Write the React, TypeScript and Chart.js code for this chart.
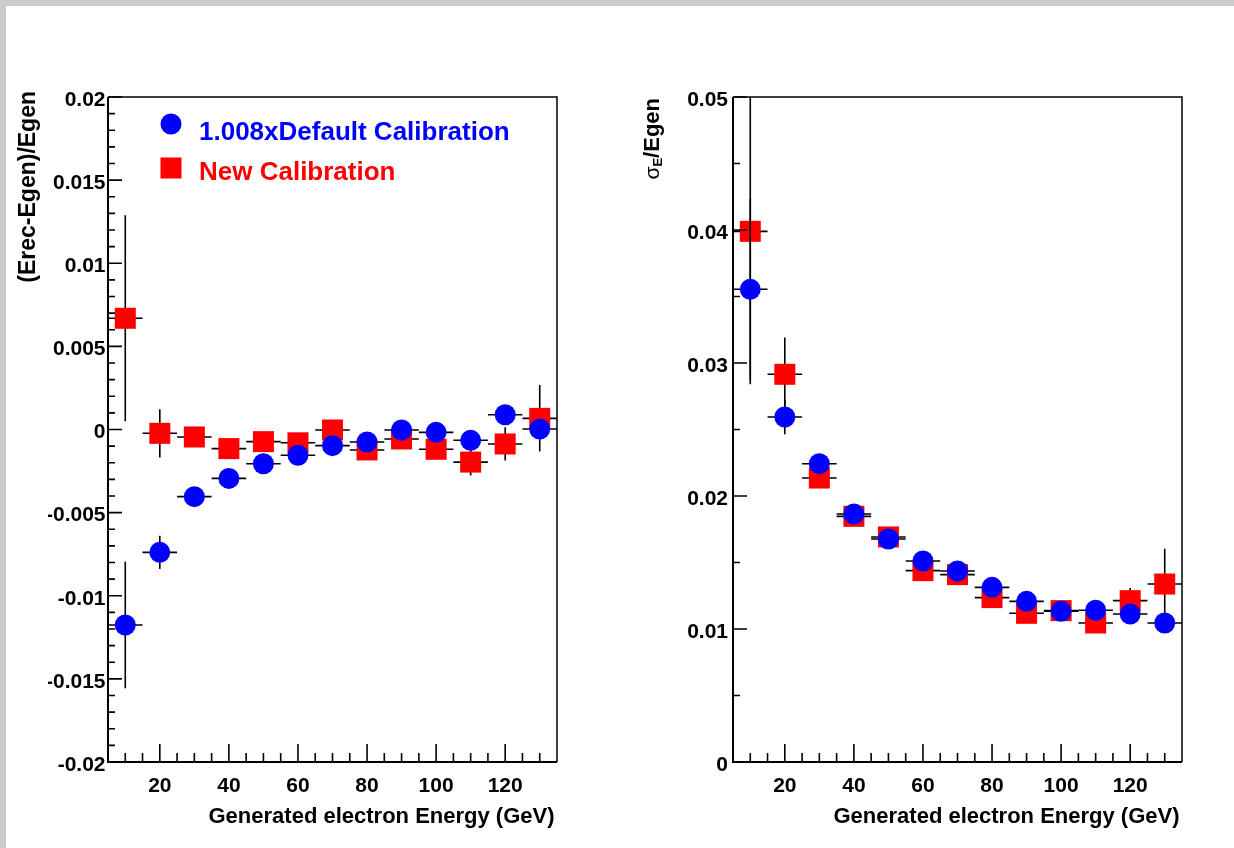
import React, { useEffect, useRef } from 'react';
import { Chart, registerables } from 'chart.js';

Chart.register(...registerables);

// ---------------- data ----------------
const energies = [10, 20, 30, 40, 50, 60, 70, 80, 90, 100, 110, 120, 130];
const energyHalfBin = [5, 5, 5, 5, 5, 5, 5, 5, 5, 5, 5, 5, 5];

// left panel: (Erec-Egen)/Egen
const responseDefault = [-0.01176, -0.00739, -0.00404, -0.00294, -0.00206, -0.00155, -0.00097, -0.00075, -0.00003, -0.00017, -0.00065, 0.00089, 0.00003];
const responseDefaultErr = [0.0038, 0.001, 0.0005, 0.0004, 0.0004, 0.0004, 0.0004, 0.0004, 0.0004, 0.0004, 0.0004, 0.0005, 0.0006];
const responseNew = [0.00669, -0.00023, -0.00045, -0.00115, -0.00073, -0.0008, -0.00003, -0.00123, -0.00057, -0.00119, -0.00196, -0.00087, 0.00067];
const responseNewErr = [0.0062, 0.00145, 0.0005, 0.0005, 0.0005, 0.0005, 0.0005, 0.0005, 0.0005, 0.0005, 0.0008, 0.001, 0.002];

// right panel: sigma_E/Egen
const resolutionDefault = [0.03554, 0.02594, 0.02243, 0.01865, 0.01677, 0.01511, 0.01436, 0.01313, 0.01208, 0.01133, 0.01141, 0.01113, 0.01045];
const resolutionDefaultErr = [0.0068, 0.0013, 0.0004, 0.0003, 0.0003, 0.0003, 0.0003, 0.0003, 0.0003, 0.0003, 0.0003, 0.0003, 0.0003];
const resolutionNew = [0.0399, 0.02915, 0.02135, 0.01847, 0.01692, 0.01439, 0.01409, 0.01236, 0.01118, 0.01138, 0.01045, 0.01213, 0.01338];
const resolutionNewErr = [0.0115, 0.00276, 0.0004, 0.0003, 0.0003, 0.0003, 0.0003, 0.0003, 0.0003, 0.0003, 0.0004, 0.00096, 0.00266];

const seriesNames = ['1.008xDefault Calibration', 'New Calibration'];
const xTickValues = [20, 40, 60, 80, 100, 120];
const leftYTickValues = [-0.02, -0.015, -0.01, -0.005, 0, 0.005, 0.01, 0.015, 0.02];
const rightYTickValues = [0, 0.01, 0.02, 0.03, 0.04, 0.05];
const xTitle = 'Generated electron Energy (GeV)';
const leftYTitle = '(Erec-Egen)/Egen';

// ---------------- style ----------------
const W = 1234;
const H = 848;
const FONT = '"Liberation Sans", Arial, Helvetica, sans-serif';
const BLUE = '#0000ff';
const RED = '#ff0000';
const Y_AXIS_W = 60;
const X_AXIS_H = 50;

const fmt = (v: number) => {
  if (Math.abs(v) < 1e-12) return '0';
  return String(parseFloat(v.toFixed(4)));
};

const rootPlugin = {
  id: 'rootStyle',
  beforeDatasetDraw(chart: any, args: any) {
    const ds = chart.data.datasets[args.index];
    const { ctx, chartArea: a } = chart;
    const xs = chart.scales.x;
    const ys = chart.scales.y;
    ctx.save();
    ctx.beginPath();
    ctx.rect(a.left, a.top, a.right - a.left, a.bottom - a.top);
    ctx.clip();
    ctx.strokeStyle = '#000';
    ctx.lineWidth = 1.6;
    ds.data.forEach((pt: any, i: number) => {
      const px = xs.getPixelForValue(pt.x);
      const py = ys.getPixelForValue(pt.y);
      ctx.beginPath();
      ctx.moveTo(xs.getPixelForValue(pt.x - ds.xErr[i]), py);
      ctx.lineTo(xs.getPixelForValue(pt.x + ds.xErr[i]), py);
      ctx.moveTo(px, ys.getPixelForValue(pt.y - ds.yErr[i]));
      ctx.lineTo(px, ys.getPixelForValue(pt.y + ds.yErr[i]));
      ctx.stroke();
    });
    ctx.restore();
  },
  afterDraw(chart: any, _args: any, opts: any) {
    const { ctx, chartArea: a } = chart;
    const xs = chart.scales.x;
    const ys = chart.scales.y;
    ctx.save();
    // frame
    ctx.strokeStyle = '#000';
    ctx.lineWidth = 1.5;
    ctx.beginPath();
    ctx.moveTo(a.left, a.top);
    ctx.lineTo(a.right, a.top);
    ctx.lineTo(a.right, a.bottom);
    ctx.stroke();
    ctx.lineWidth = 2;
    ctx.beginPath();
    ctx.moveTo(a.left, a.top);
    ctx.lineTo(a.left, a.bottom);
    ctx.lineTo(a.right, a.bottom);
    ctx.stroke();

    // y ticks (inside)
    ctx.lineWidth = 1.6;
    ctx.beginPath();
    const yMin = ys.min;
    const yMax = ys.max;
    const nMinor = Math.round((yMax - yMin) / opts.yMinorStep);
    for (let k = 0; k <= nMinor; k++) {
      const v = yMin + k * opts.yMinorStep;
      const isMajor = Math.abs(v / opts.yMajorStep - Math.round(v / opts.yMajorStep)) < 1e-6;
      const py = ys.getPixelForValue(v);
      ctx.moveTo(a.left, py);
      ctx.lineTo(a.left + (isMajor ? 14 : 7), py);
    }
    // x ticks (inside)
    for (let v = 10; v <= 130; v += 5) {
      const isMajor = v % 20 === 0;
      const px = xs.getPixelForValue(v);
      ctx.moveTo(px, a.bottom);
      ctx.lineTo(px, a.bottom - (isMajor ? 18 : 9));
    }
    ctx.stroke();

    // x title
    ctx.fillStyle = '#000';
    ctx.font = `bold 22px ${FONT}`;
    ctx.textAlign = 'right';
    ctx.textBaseline = 'alphabetic';
    ctx.fillText(xTitle, a.right - 2.5, 823);

    // y title (rotated, segments)
    const segs = opts.yTitle;
    let total = 0;
    segs.forEach((s: any) => {
      ctx.font = s.font;
      total += ctx.measureText(s.text).width;
    });
    ctx.translate(opts.yTitleX, opts.yTitleTop);
    ctx.rotate(-Math.PI / 2);
    ctx.textAlign = 'left';
    let u = -total;
    segs.forEach((s: any) => {
      ctx.font = s.font;
      ctx.fillText(s.text, u, s.dv || 0);
      u += ctx.measureText(s.text).width;
    });
    ctx.setTransform(1, 0, 0, 1, 0, 0);

    // legend
    if (opts.legend) {
      ctx.fillStyle = BLUE;
      ctx.beginPath();
      ctx.arc(171, 124, 10.5, 0, Math.PI * 2);
      ctx.fill();
      ctx.fillStyle = RED;
      ctx.fillRect(160.5, 157.5, 21, 21);
      ctx.font = `bold 26px ${FONT}`;
      ctx.textAlign = 'left';
      ctx.fillStyle = BLUE;
      ctx.fillText(seriesNames[0], 199, 140);
      ctx.fillStyle = RED;
      ctx.fillText(seriesNames[1], 199, 180);
    }
    ctx.restore();
  },
};

interface PanelSpec {
  left: number;
  right: number;
  top: number;
  bottom: number;
  yMin: number;
  yMax: number;
  yTicks: number[];
  yMajorStep: number;
  yMinorStep: number;
  labelPad: number;
  blue: number[];
  blueErr: number[];
  red: number[];
  redErr: number[];
  yTitle: any[];
  yTitleX: number;
  yTitleTop: number;
  legend: boolean;
}

function buildConfig(p: PanelSpec): any {
  const tickFont = { family: FONT, size: 21, weight: 'bold' as const };
  return {
    type: 'scatter',
    data: {
      datasets: [
        {
          label: seriesNames[0],
          data: energies.map((x, i) => ({ x, y: p.blue[i] })),
          yErr: p.blueErr,
          xErr: energyHalfBin,
          pointStyle: 'circle',
          pointRadius: 10.5,
          pointHoverRadius: 10.5,
          pointBackgroundColor: BLUE,
          backgroundColor: BLUE,
          pointBorderWidth: 0,
          borderWidth: 0,
          showLine: false,
        },
        {
          label: seriesNames[1],
          data: energies.map((x, i) => ({ x, y: p.red[i] })),
          yErr: p.redErr,
          xErr: energyHalfBin,
          pointStyle: 'rect',
          pointRadius: 14.85,
          pointHoverRadius: 14.85,
          pointBackgroundColor: RED,
          backgroundColor: RED,
          pointBorderWidth: 0,
          borderWidth: 0,
          showLine: false,
        },
      ],
    },
    options: {
      responsive: false,
      animation: false,
      events: [],
      layout: {
        padding: {
          left: p.left - Y_AXIS_W,
          right: W - p.right,
          top: p.top,
          bottom: H - p.bottom - X_AXIS_H,
        },
      },
      plugins: {
        legend: { display: false },
        tooltip: { enabled: false },
        rootStyle: {
          yMajorStep: p.yMajorStep,
          yMinorStep: p.yMinorStep,
          yTitle: p.yTitle,
          yTitleX: p.yTitleX,
          yTitleTop: p.yTitleTop,
          legend: p.legend,
        },
      },
      scales: {
        x: {
          type: 'linear',
          min: 5,
          max: 135,
          afterBuildTicks: (s: any) => {
            s.ticks = xTickValues.map((v) => ({ value: v }));
          },
          afterFit: (s: any) => {
            s.height = X_AXIS_H;
          },
          grid: { display: false, drawTicks: false },
          border: { display: false },
          ticks: {
            autoSkip: false,
            maxRotation: 0,
            padding: 11.5,
            color: '#000',
            font: tickFont,
            callback: (v: number) => String(v),
          },
        },
        y: {
          type: 'linear',
          min: p.yMin,
          max: p.yMax,
          afterBuildTicks: (s: any) => {
            s.ticks = p.yTicks.map((v) => ({ value: v }));
          },
          afterFit: (s: any) => {
            s.width = Y_AXIS_W;
          },
          grid: { display: false, drawTicks: false },
          border: { display: false },
          ticks: {
            autoSkip: false,
            padding: p.labelPad,
            labelOffset: 3,
            color: '#000',
            font: tickFont,
            callback: (v: number) => fmt(v),
          },
        },
      },
    },
    plugins: [rootPlugin],
  };
}

const leftSpec: PanelSpec = {
  left: 108,
  right: 557,
  top: 97,
  bottom: 762,
  yMin: -0.02,
  yMax: 0.02,
  yTicks: leftYTickValues,
  yMajorStep: 0.005,
  yMinorStep: 0.001,
  labelPad: 2.5,
  blue: responseDefault,
  blueErr: responseDefaultErr,
  red: responseNew,
  redErr: responseNewErr,
  yTitle: [{ text: leftYTitle, font: `bold 23px ${FONT}` }],
  yTitleX: 35,
  yTitleTop: 91,
  legend: true,
};

const rightSpec: PanelSpec = {
  left: 733,
  right: 1182,
  top: 97,
  bottom: 762,
  yMin: 0,
  yMax: 0.05,
  yTicks: rightYTickValues,
  yMajorStep: 0.01,
  yMinorStep: 0.005,
  labelPad: 5,
  blue: resolutionDefault,
  blueErr: resolutionDefaultErr,
  red: resolutionNew,
  redErr: resolutionNewErr,
  yTitle: [
    { text: 'σ', font: `21px ${FONT}` },
    { text: 'E', font: `bold 13px ${FONT}`, dv: 3 },
    { text: '/Egen', font: `bold 22px ${FONT}` },
  ],
  yTitleX: 659,
  yTitleTop: 98,
  legend: false,
};

export default function App() {
  const leftRef = useRef<HTMLCanvasElement | null>(null);
  const rightRef = useRef<HTMLCanvasElement | null>(null);

  useEffect(() => {
    const charts: Chart[] = [];
    if (leftRef.current) charts.push(new Chart(leftRef.current, buildConfig(leftSpec)));
    if (rightRef.current) charts.push(new Chart(rightRef.current, buildConfig(rightSpec)));
    return () => charts.forEach((c) => c.destroy());
  }, []);

  const canvasStyle: React.CSSProperties = { position: 'absolute', left: 0, top: 0, width: W, height: H };
  return (
    <div style={{ position: 'fixed', left: 0, top: 0, width: W, height: H, background: '#cccccc', overflow: 'hidden' }}>
      <div style={{ position: 'absolute', left: 6, top: 6, right: 0, bottom: 0, background: '#ffffff' }} />
      <canvas ref={leftRef} width={W} height={H} style={canvasStyle} />
      <canvas ref={rightRef} width={W} height={H} style={canvasStyle} />
    </div>
  );
}
